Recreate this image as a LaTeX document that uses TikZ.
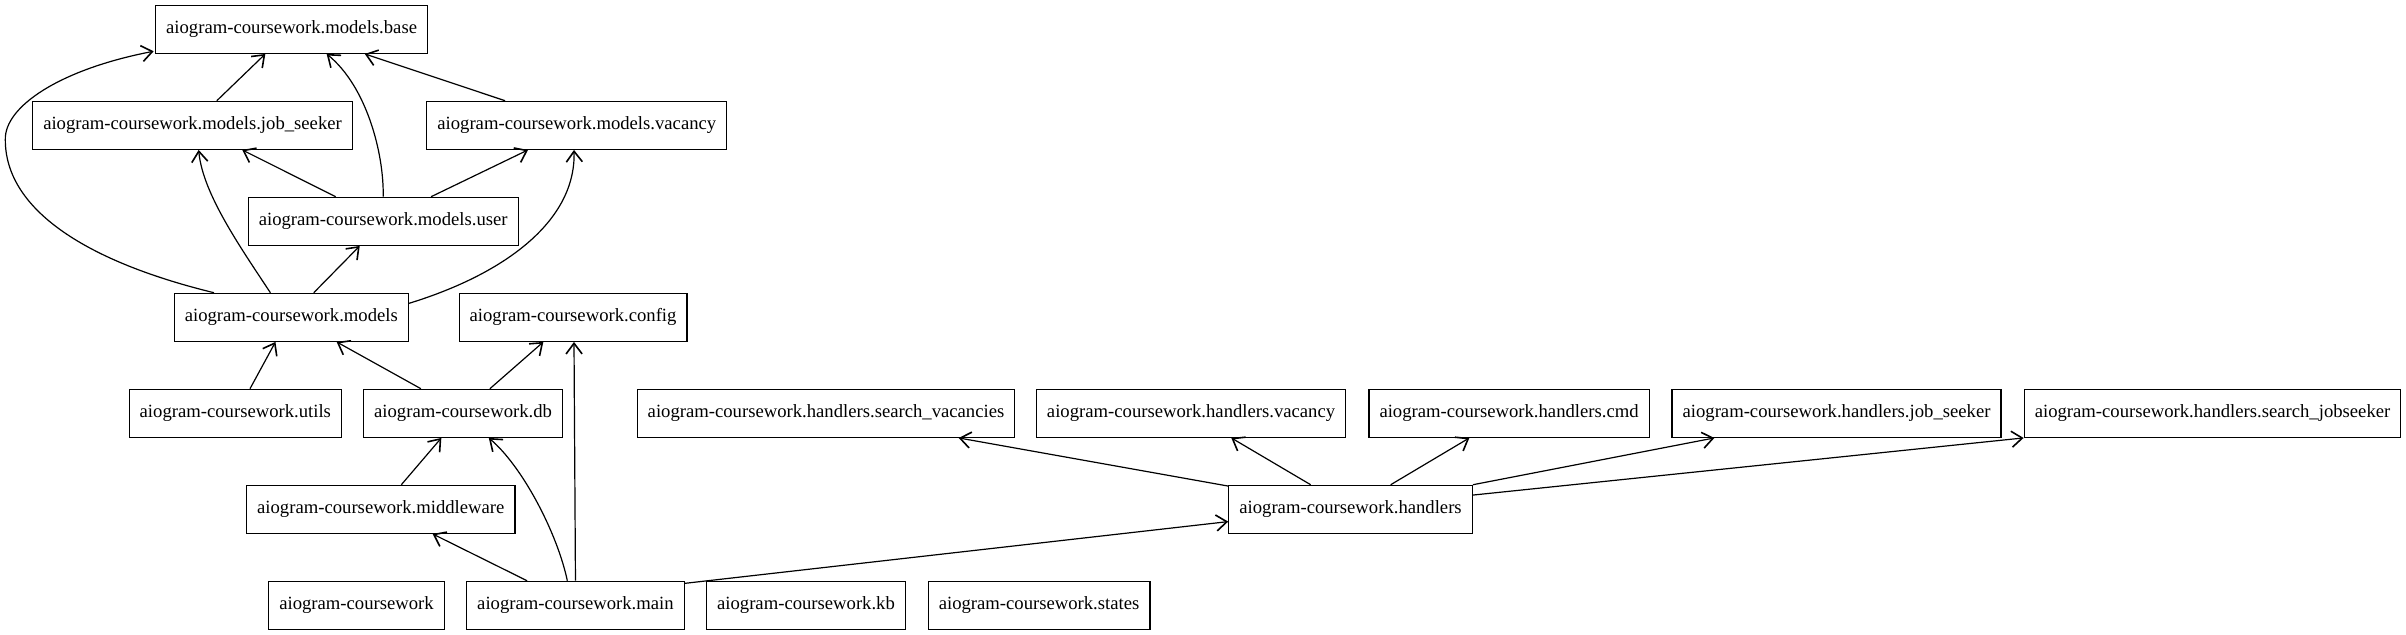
\documentclass[tikz,border=0pt]{standalone}
\usepackage{fontspec}
\setmainfont{Liberation Serif}
\usepackage{tikz}
\usetikzlibrary{arrows.meta}

\begin{document}
\begin{tikzpicture}[x=1pt,y=1pt,
        module/.style={draw,line width=0.9pt,rectangle,minimum height=36pt,
            inner xsep=7.92pt,inner ysep=0pt,font=\fontsize{14pt}{16pt}\selectfont},
        dep/.style={line width=0.9pt,-{Straight Barb[length=8pt,width=12pt,line width=1.2pt]}}]
            \useasboundingbox (0,0) rectangle (1804.5,-476.25);
            %models
            \node[module] (base) at (218.7,-22) {aiogram-coursework.models.base};
            \node[module] (mjob) at (144.4,-94) {aiogram-coursework.models.job\_seeker};
            \node[module] (mvac) at (432.6,-94) {aiogram-coursework.models.vacancy};
            \node[module] (muser) at (287.4,-166) {aiogram-coursework.models.user};
            \node[module] (models) at (218.5,-238) {aiogram-coursework.models};
            \node[module] (config) at (429.8,-238) {aiogram-coursework.config};
            %db and utils
            \node[module] (utils) at (176.5,-310) {aiogram-coursework.utils};
            \node[module] (db) at (347.3,-310) {aiogram-coursework.db};
            \node[module] (mw) at (285.6,-382) {aiogram-coursework.middleware};
            %handlers
            \node[module] (hsv) at (619.5,-310) {aiogram-coursework.handlers.search\_vacancies};
            \node[module] (hvac) at (893.3,-310) {aiogram-coursework.handlers.vacancy};
            \node[module] (hcmd) at (1131.8,-310) {aiogram-coursework.handlers.cmd};
            \node[module] (hjob) at (1377.4,-310) {aiogram-coursework.handlers.job\_seeker};
            \node[module] (hsj) at (1659.4,-310) {aiogram-coursework.handlers.search\_jobseeker};
            \node[module] (handlers) at (1012.9,-382) {aiogram-coursework.handlers};
            %bottom row
            \node[module] (pkg) at (267.4,-454) {aiogram-coursework};
            \node[module] (main) at (431.6,-454) {aiogram-coursework.main};
            \node[module] (kb) at (604.5,-454) {aiogram-coursework.kb};
            \node[module] (states) at (779.3,-454) {aiogram-coursework.states};

            %imports of the models
            \draw[dep] ([xshift=-58pt]models.north) .. controls (60,-195) and (4,-155) .. (4,-105)
                .. controls (3,-80) and (45,-52) .. ([xshift=-1pt,yshift=2pt]base.south west);
            \draw[dep] ([xshift=18.2pt]mjob.north) -- ([xshift=-19.7pt]base.south);
            \draw[dep] (muser.north) .. controls (288,-115) and (275,-65) .. ([xshift=26.3pt]base.south);
            \draw[dep] ([xshift=-53.8pt]mvac.north) -- ([xshift=54.9pt]base.south);
            \draw[dep] ([xshift=-35.6pt]muser.north) -- ([xshift=37.3pt]mjob.south);
            \draw[dep] ([xshift=35.9pt]muser.north) -- ([xshift=-36.6pt]mvac.south);
            \draw[dep] ([xshift=-15.7pt]models.north) .. controls (180,-185) and (152,-145) .. ([xshift=4.6pt]mjob.south);
            \draw[dep] ([xshift=16.8pt]models.north) -- ([xshift=-17.6pt]muser.south);
            \draw[dep] ([yshift=10.5pt]models.east) .. controls (380,-205) and (432,-165) .. ([xshift=-2.1pt]mvac.south);
            %db, utils, middleware
            \draw[dep] ([xshift=11pt]utils.north) -- ([xshift=-11.9pt]models.south);
            \draw[dep] ([xshift=-31.6pt]db.north) -- ([xshift=34pt]models.south);
            \draw[dep] ([xshift=20.1pt]db.north) -- ([xshift=-22.3pt]config.south);
            \draw[dep] ([xshift=15.4pt]mw.north) -- ([xshift=-16.3pt]db.south);
            %main
            \draw[dep] ([xshift=-36.3pt]main.north) -- ([xshift=38.9pt]mw.south);
            \draw[dep] ([xshift=-6.1pt]main.north) .. controls (418,-400) and (392,-350) .. ([xshift=19.3pt]db.south);
            \draw[dep] (main.north) -- ([xshift=0.7pt]config.south);
            \draw[dep] ([yshift=16.5pt]main.east) -- ([yshift=-9.2pt]handlers.west);
            %handlers
            \draw[dep] ([yshift=-1pt]handlers.north west) -- ([xshift=99.5pt]hsv.south);
            \draw[dep] ([xshift=-29.9pt]handlers.north) -- ([xshift=30.2pt]hvac.south);
            \draw[dep] ([xshift=30.1pt]handlers.north) -- ([xshift=-29.8pt]hcmd.south);
            \draw[dep] (handlers.north east) -- ([xshift=-91.6pt]hjob.south);
            \draw[dep] ([yshift=10.7pt]handlers.east) -- (hsj.south west);
        \end{tikzpicture}
\end{document}
